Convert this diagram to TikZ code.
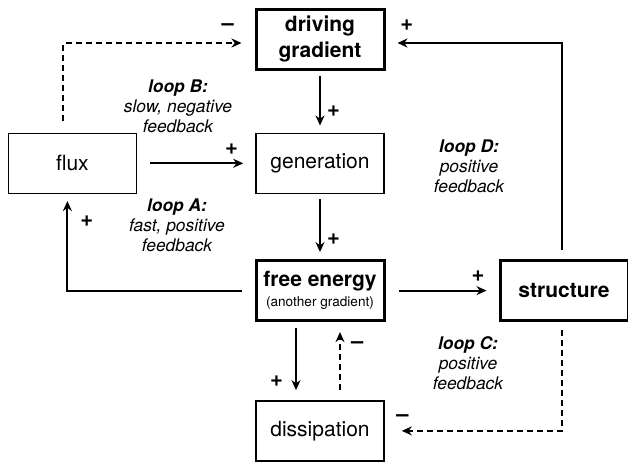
\documentclass[tikz,border=0pt]{standalone}
\usepackage{fontspec}
\setmainfont{TeX Gyre Heros}
\usetikzlibrary{arrows.meta, positioning}
\tikzstyle{block}=[draw, line width=0.8pt, minimum width=64pt, minimum height=30pt, inner sep=0pt, align=center, font=\fontsize{10.5}{13}\selectfont]
\tikzstyle{keyblock}=[block, line width=1.5pt, font=\fontsize{10.5}{13}\selectfont\bfseries]
\tikzstyle{link}=[line width=1pt, shorten <=2.5pt, shorten >=3.5pt, -{Stealth[length=5pt,width=4.5pt]}]
\tikzstyle{weak}=[link, dash pattern=on 3pt off 2pt]
\tikzstyle{sign}=[font=\fontsize{11}{11}\selectfont\bfseries, inner sep=1pt]
\tikzstyle{note}=[font=\fontsize{8.7}{10}\selectfont\itshape, align=center]

\begin{document}
\begin{tikzpicture}[x=0.5pt, y=-0.5pt]
  \useasboundingbox (0,0) rectangle (628,462);
  \node[keyblock] (drive) at (320,39) {driving\\gradient};
  \node[block] (gen) [below=31pt of drive] {generation};
  \node[block] (flux) [left=59pt of gen] {flux};
  \node[keyblock] (free) [below=32.5pt of gen] {free energy\\[-3pt]{\fontsize{6.8}{8}\selectfont\mdseries (another gradient)}};
  \node[keyblock] (struct) [right=56.5pt of free] {structure};
  \node[block] (diss) [below=39pt of free] {dissipation};
  % the four loops
  \node[note] (loopB) at (178,106) {\textbf{loop B:}\\slow, negative\\feedback};
  \node[note] (loopA) at (177,225) {\textbf{loop A:}\\fast, positive\\feedback};
  \node[note] (loopD) at (469,166) {\textbf{loop D:}\\positive\\feedback};
  \node[note] (loopC) at (468,363) {\textbf{loop C:}\\positive\\feedback};
  % solid links
  \draw[link] (drive) -- node[sign, right=2pt, pos=.66] (p1) {+} (gen);
  \draw[link] (gen) -- node[sign, right=2pt, pos=.69] (p2) {+} (free);
  \draw[link, shorten <=6.5pt, shorten >=6pt] (flux) -- node[sign, above=3pt, pos=.8] (p3) {+} (gen);
  \draw[link, shorten <=6.5pt] (free.west) -| node[sign, right=5pt, pos=.86] (p4) {+} ([xshift=-2.5pt]flux.south);
  \draw[link, shorten <=6.5pt, shorten >=6pt] (free) -- node[sign, above=3pt, pos=.82] (p5) {+} (struct);
  \draw[link, shorten <=4.5pt, shorten >=6pt] ([xshift=-1pt]struct.north) |- node[sign, above=5pt, pos=.94] (p6) {+} ([yshift=-2pt]drive.east);
  \draw[link, shorten <=3pt, shorten >=5pt] ([xshift=-12pt]free.south) -- node[sign, left=5pt, pos=.76] (p7) {+} ([xshift=-12pt]diss.north);
  % dashed links
  \draw[weak, shorten <=6pt, shorten >=6.5pt] ([xshift=-4.5pt]flux.north) |- node[sign, above=5pt, pos=.93] (m1) {--} ([yshift=-2pt]drive.west);
  \draw[weak, shorten <=5pt, shorten >=5pt] ([xshift=10pt]diss.north) -- node[sign, right=4pt, pos=.7] (m2) {--} ([xshift=10pt]free.south);
  \draw[weak, shorten <=4pt, shorten >=8.5pt] ([xshift=-1pt]struct.south) |- node[sign, above=3pt, pos=.95] (m3) {--} (diss.east);
\end{tikzpicture}
\end{document}
